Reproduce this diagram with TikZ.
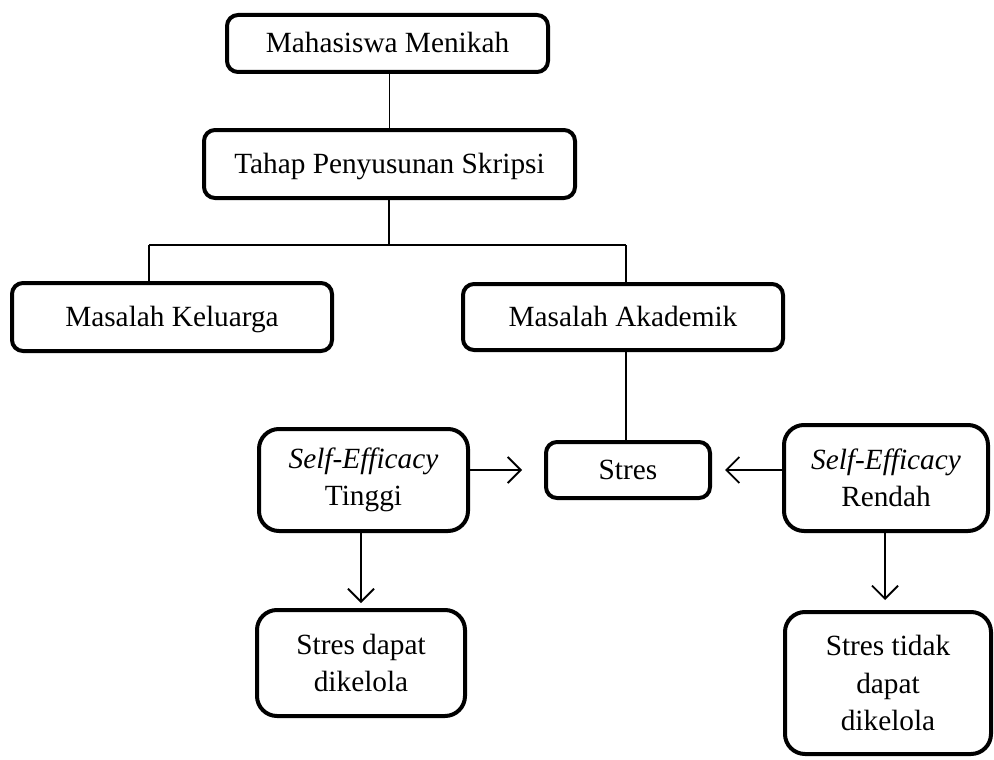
\documentclass[tikz,border=0pt]{standalone}
\usepackage{fontspec}
\setmainfont{Liberation Serif}
\usetikzlibrary{arrows.meta}
\begin{document}
\begin{tikzpicture}[x=1pt,y=-1pt,
  box/.style={draw,line width=4pt,rounded corners=11pt,inner sep=0pt,align=center,
    font=\fontsize{29.3}{37.5}\selectfont},
  onebox/.style={box,text height=19pt,text depth=0pt},
  bigbox/.style={box,rounded corners=20pt},
  conn/.style={line width=1.8pt},
  arr/.style={conn,-{Straight Barb[length=13pt,width=26pt,line width=1.8pt]}}]
\useasboundingbox (0,0) rectangle (994,760);
\node[onebox,minimum width=321pt,minimum height=57pt] (m1) at (387.5,43.5) {Mahasiswa Menikah};
\node[onebox,minimum width=371pt,minimum height=68pt] (m2) at (389.5,164) {Tahap Penyusunan Skripsi};
\node[onebox,minimum width=320pt,minimum height=68pt] (kel) at (172,317) {Masalah Keluarga};
\node[onebox,minimum width=320pt,minimum height=66pt] (aka) at (623,317) {Masalah Akademik};
\node[onebox,minimum width=164pt,minimum height=56pt] (stres) at (628,470) {Stres};
\node[bigbox,minimum width=209pt,minimum height=102pt] (ting) at (363.5,480) {\textit{Self-Efficacy}\\Tinggi};
\node[bigbox,minimum width=204pt,minimum height=106pt] (rend) at (886,478) {\textit{Self-Efficacy}\\Rendah};
\node[bigbox,minimum width=208pt,minimum height=106pt] (ok) at (361,663) {Stres dapat\\dikelola};
\node[bigbox,minimum width=206pt,minimum height=142pt] (nok) at (888,683) {Stres tidak\\dapat\\dikelola};
\coordinate (jn) at (389,245);
\coordinate (jl) at (149,245);
\coordinate (jr) at (626,245);
\draw[conn] (m2.north) -- (m2.north |- m1.south);
\draw[conn] (m2.south -| jn) -- (jn);
\draw[conn] (jl) -- (jr);
\draw[conn] (jl) -- (jl |- kel.north);
\draw[conn] (jr) -- (jr |- aka.north);
\draw[conn] (aka.south -| jr) -- (jr |- stres.north);
\draw[arr,shorten >=22pt] (ting.east |- stres.west) -- (stres.west);
\draw[arr,shorten >=13pt] (rend.west |- stres.east) -- (stres.east);
\draw[arr,shorten >=5pt] (ting.south -| ok.north) -- (ok.north);
\draw[arr,shorten >=10pt] (rend.south -| 885,0) -- (nok.north -| 885,0);
\end{tikzpicture}
\end{document}
